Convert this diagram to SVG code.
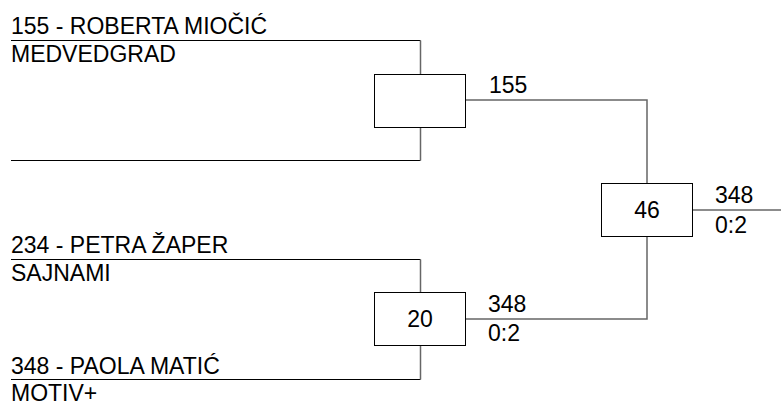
<svg xmlns="http://www.w3.org/2000/svg" width="781" height="405" viewBox="0 0 781 405">
<style>
text{font-family:"Liberation Sans",Arial,sans-serif;font-size:23px;fill:#000}
.c{text-anchor:middle}
.ln{fill:none;stroke:#000;stroke-width:1}
.lg{fill:none;stroke:#666;stroke-width:1.5}
.box{fill:#fff;stroke:#000;stroke-width:1}
</style>
<rect width="781" height="405" fill="#fff"/>
<g id="connectors">
<path class="ln" d="M11 40.5H420.5"/>
<path class="lg" d="M420.5 40.5V74"/>
<path class="ln" d="M11 160.5H420.5"/>
<path class="lg" d="M420.5 160.5V127"/>
<path class="lg" d="M465 100H647V183"/>
<path class="ln" d="M11 259.5H420.5"/>
<path class="lg" d="M420.5 259.5V292"/>
<path class="ln" d="M11 379.5H420.5"/>
<path class="lg" d="M420.5 379.5V345"/>
<path class="lg" d="M465 319H647V236"/>
<path class="lg" d="M692 210H781"/>
</g>
<g id="p155">
<text x="11" y="34">155 - ROBERTA MIOČIĆ</text>
<text x="11" y="62">MEDVEDGRAD</text>
</g>
<g id="p234">
<text x="11" y="253">234 - PETRA ŽAPER</text>
<text x="11" y="281">SAJNAMI</text>
</g>
<g id="p348">
<text x="11" y="374">348 - PAOLA MATIĆ</text>
<text x="11" y="401">MOTIV+</text>
</g>
<g id="m1">
<rect class="box" x="374.5" y="74.5" width="91" height="53"/>
<text x="489" y="93">155</text>
</g>
<g id="m20">
<rect class="box" x="374.5" y="292.5" width="91" height="53"/>
<text class="c" x="420" y="327">20</text>
<text x="488" y="312">348</text>
<text x="488" y="341">0:2</text>
</g>
<g id="m46">
<rect class="box" x="601.5" y="183.5" width="91" height="53"/>
<text class="c" x="647" y="218">46</text>
<text x="715" y="203">348</text>
<text x="715" y="233">0:2</text>
</g>
</svg>
